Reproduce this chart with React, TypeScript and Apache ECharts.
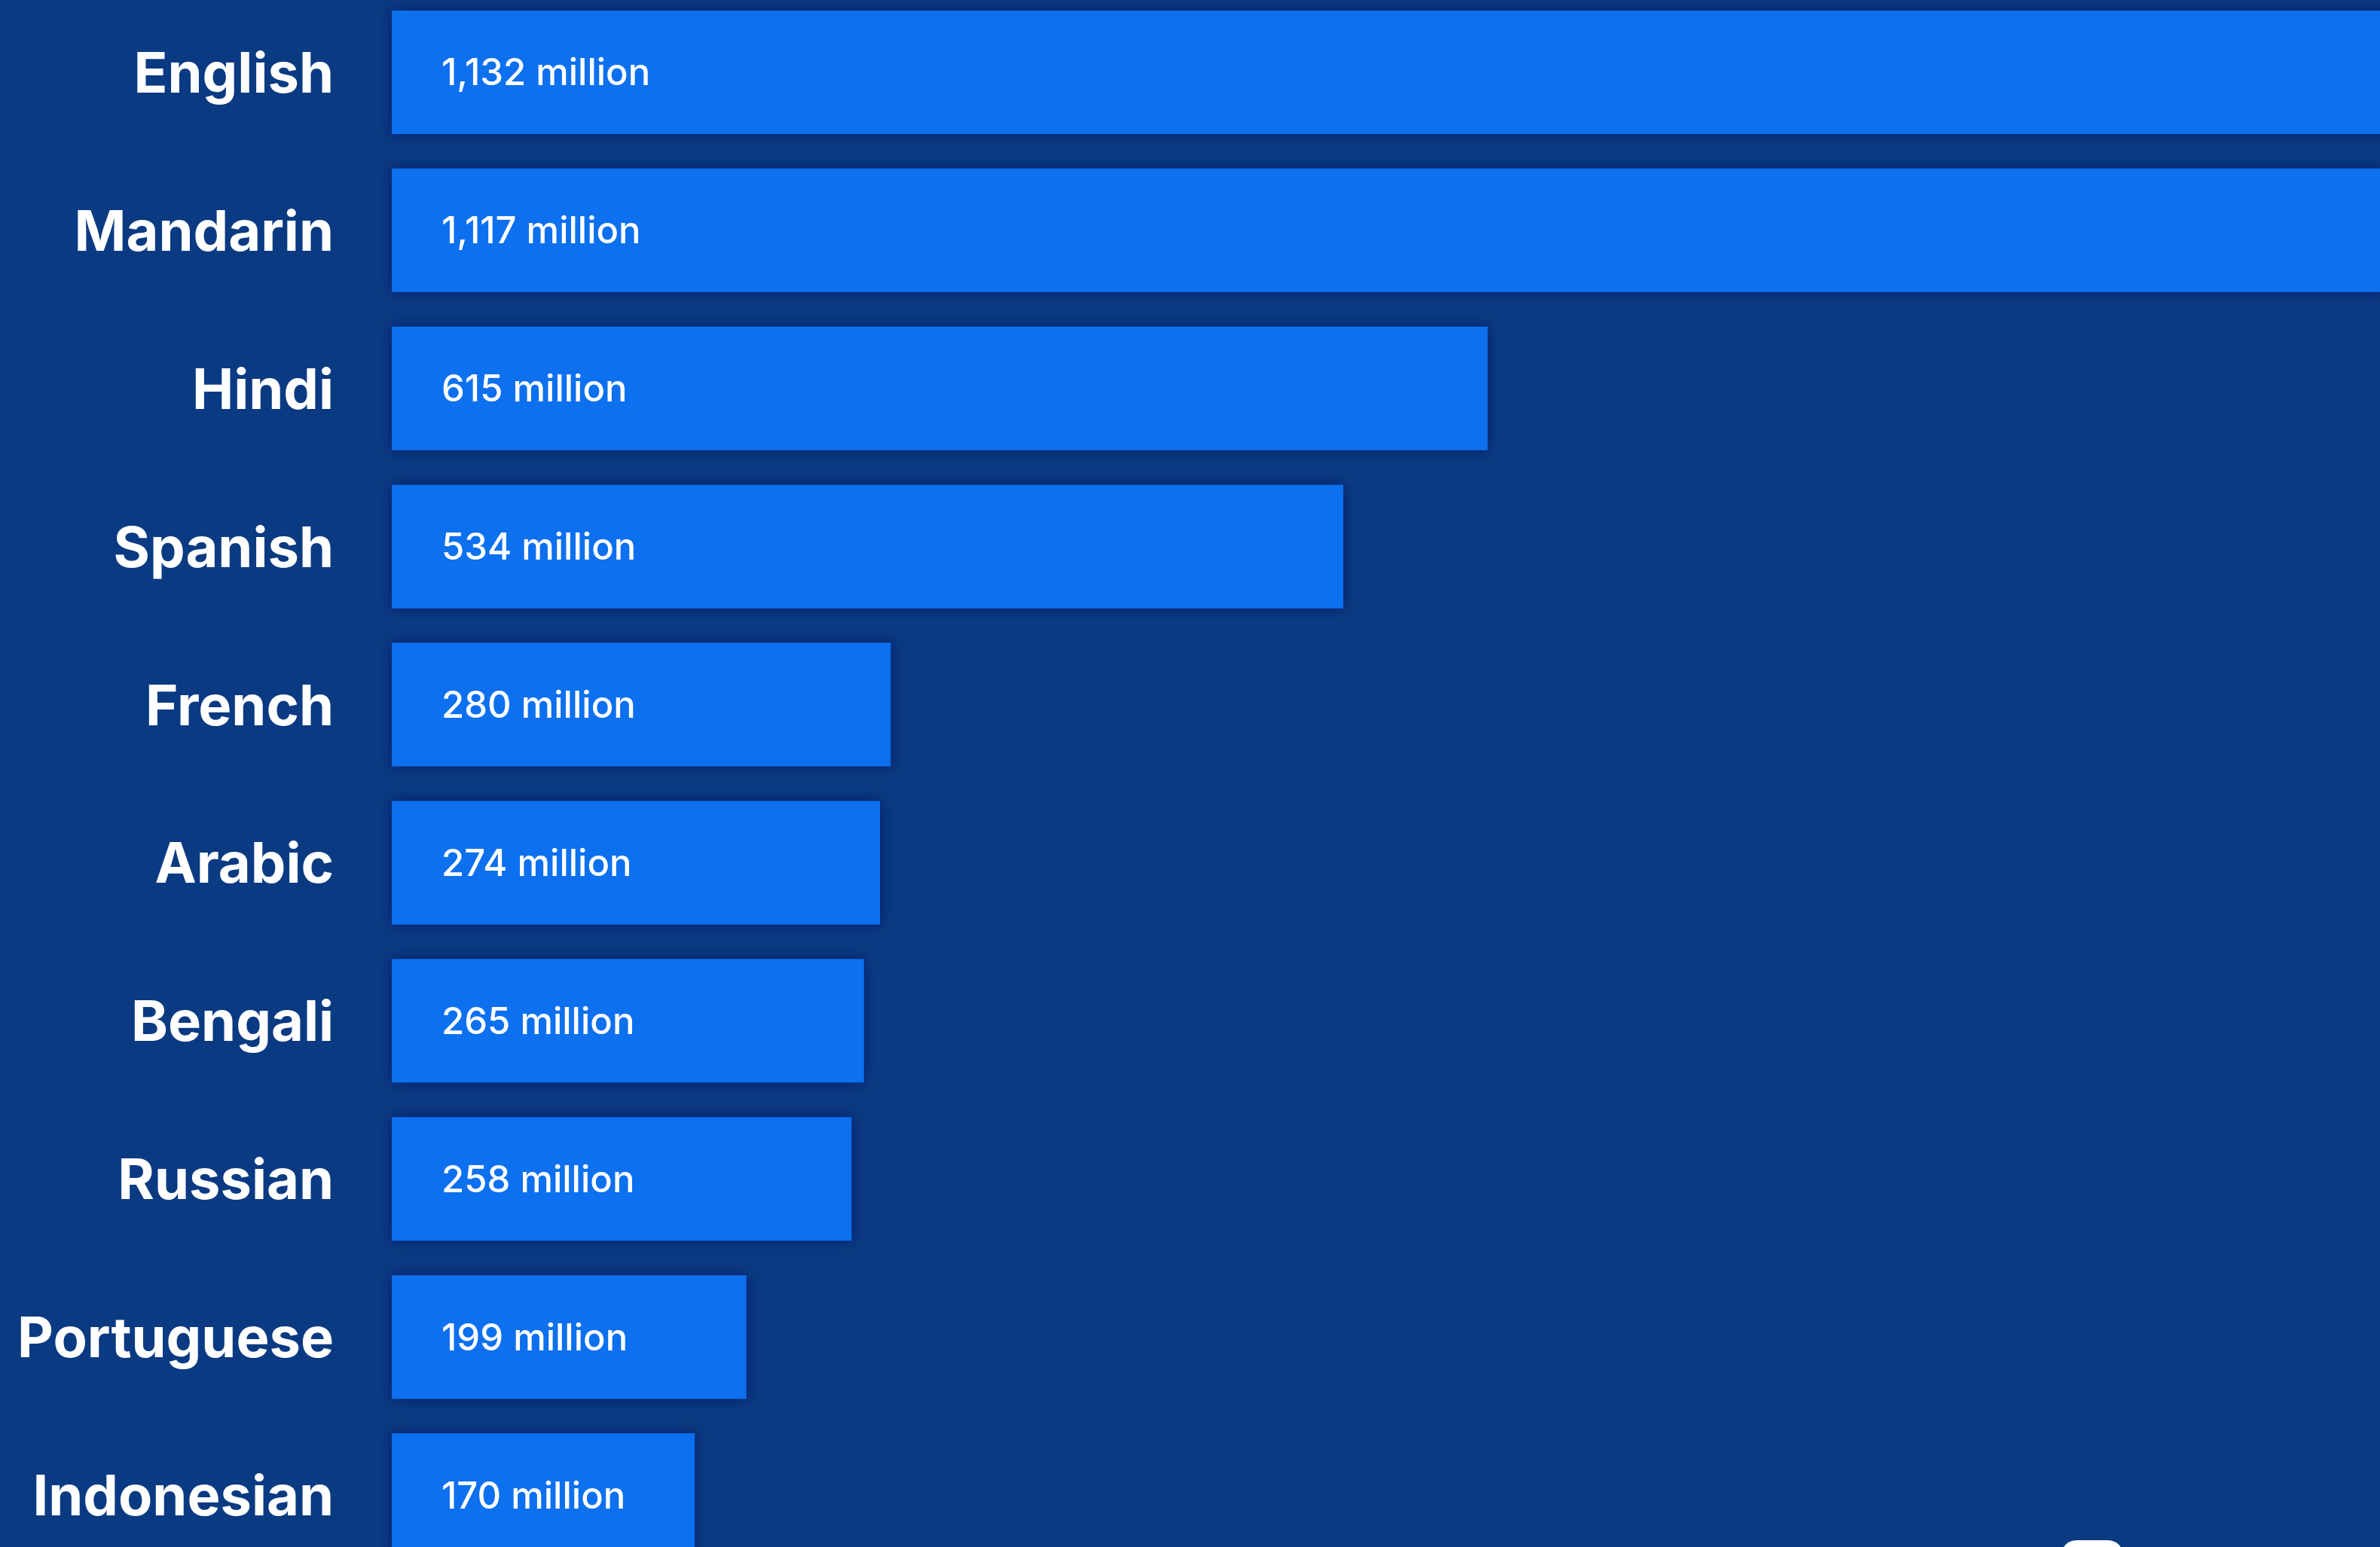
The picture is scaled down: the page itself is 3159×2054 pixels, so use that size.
import React, { useEffect, useRef } from "react";
import * as echarts from "echarts";

const languages = [
  "English",
  "Mandarin",
  "Hindi",
  "Spanish",
  "French",
  "Arabic",
  "Bengali",
  "Russian",
  "Portuguese",
  "Indonesian",
];
const speakersMillions = [1132, 1117, 615, 534, 280, 274, 265, 258, 199, 170];
const valueUnit = "million";

export default function App() {
  const ref = useRef<HTMLDivElement>(null);

  useEffect(() => {
    if (!ref.current) return;
    const chart = echarts.init(ref.current, undefined, { renderer: "svg" });
    chart.setOption({
      animation: false,
      backgroundColor: "#0a3a82",
      grid: {
        left: 520,
        top: -9,
        width: 2838,
        height: 2099,
        containLabel: false,
        outerBoundsMode: "none",
      },
      xAxis: {
        type: "value",
        min: 0,
        max: 1200,
        show: false,
      },
      yAxis: {
        type: "category",
        data: languages,
        inverse: true,
        axisLine: { show: false },
        axisTick: { show: false },
        splitLine: { show: false },
        axisLabel: {
          color: "#ffffff",
          fontFamily: "Inter",
          fontWeight: 700,
          fontSize: 74,
          margin: 77,
          align: "right",
        },
      },
      series: [
        {
          type: "bar",
          data: speakersMillions,
          barWidth: 164,
          itemStyle: {
            color: "#0f6fee",
            shadowColor: "rgba(0, 25, 80, 0.55)",
            shadowBlur: 18,
          },
          label: {
            show: true,
            position: "insideLeft",
            distance: 66,
            color: "#ffffff",
            fontFamily: "Inter",
            fontWeight: 500,
            fontSize: 49,
            formatter: (p: any) =>
              `${Number(p.value).toLocaleString("en-US")} ${valueUnit}`,
          },
        },
      ],
      graphic: [
        {
          type: "rect",
          shape: { x: 2736, y: 2045, width: 82, height: 40, r: 20 },
          style: { fill: "#ffffff" },
        },
      ],
    });
    return () => chart.dispose();
  }, []);

  return (
    <div
      ref={ref}
      style={{
        position: "fixed",
        left: 0,
        top: 0,
        width: "3159px",
        height: "2054px",
      }}
    />
  );
}
